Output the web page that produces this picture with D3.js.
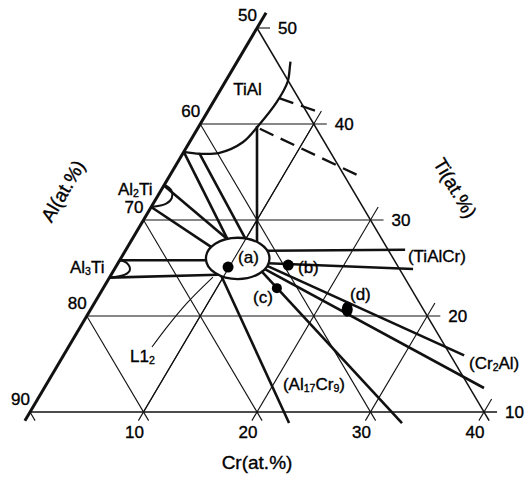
<!DOCTYPE html>
<html>
<head>
<meta charset="utf-8">
<script src="https://cdn.jsdelivr.net/npm/d3@7"></script>
<style>
  body { margin: 0; background: #fff; }
  svg text { font-family: "Liberation Sans", Arial, Helvetica, sans-serif; fill: #000; stroke: #000; stroke-width: 0.35px; }
</style>
</head>
<body>
<svg width="525" height="479"></svg>
<script>
// every composition is [Cr, Ti] in at.%, Al is the balance
const crTicks = [10, 20, 30, 40];
const tiTicks = [10, 20, 30, 40, 50];
const alTicks = [50, 60, 70, 80, 90];

// single phase boundaries
const tialBoundary = [[0, 37.1], [1.5, 36.9], [3.2, 37.0], [4.7, 38.1], [5.2, 39.8], [5.6, 42.3], [5.5, 44.4], [4.9, 46.0], [4.7, 46.5]];
const al2tiBoundary = [[0, 33.7], [0.9, 33.1], [1.35, 32.3], [1.15, 31.7], [0, 31.35]];
const al3tiBoundary = [[0, 25.8], [0.8, 25.5], [1.4, 24.8], [1.2, 24.3], [0, 24.0]];
const l12Centre = [10.3, 26.0];
const l12HalfSize = [2.8, 2.15]; // half extent, Cr and Ti

// tie lines / phase field borders
const tieLines = [
  [[0, 25.8], [7.6, 25.8]],
  [[0, 24.0], [9.4, 24.3]],
  [[0, 31.35], [7.35, 27.2]],
  [[0, 33.6], [8.4, 28.0]],
  [[0, 37.1], [8.4, 28.0]],
  [[1.5, 36.9], [10.0, 28.0]],
  [[5.1, 39.8], [11.15, 27.7]],
  [[12.5, 26.8], [24.6, 26.9]],
  [[13.2, 25.5], [26.3, 24.9]],
  [[13.1, 25.3], [35.3, 15.9]],
  [[13.2, 24.9], [38.75, 12.5]],
  [[13.15, 24.6], [33.35, 8.85]],
  [[9.75, 24.2], [23.4, 8.85]]
];
const dashedLines = [
  [[5.6, 42.7], [10.1, 41.15]],
  [[5.5, 39.5], [16.7, 34.6]]
];
const l12Leader = [[7.36, 16.77], [7.64, 18.85], [8.15, 21.35], [9.09, 24.06]];

// alloys
const alloyNames = ['(a)', '(b)', '(c)', '(d)'];
const alloyComp = [[9.9, 25.1], [15.1, 25.3], [15.3, 22.9], [22.6, 20.7]];
const alloyLabelAt = [[10.57, 25.52], [16.37, 24.48], [13.97, 21.35], [22.36, 21.67]];

// phase names, "_n" = subscript
const phaseNames = ['TiAl', 'Al_2Ti', 'Al_3Ti', 'L1_2', '(TiAlCr)', '(Cr_2Al)', '(Al_17Cr_9)'];
const phaseLabelAt = [[1.4, 43.0], [-3.55, 32.6], [-3.72, 24.48], [6.21, 15.21], [25.49, 25.62], [36.44, 14.48], [21.14, 12.29]];

const svg = d3.select('svg');

const crScale = d3.scaleLinear().domain([0, 40]).range([30, 484]);
const tiScale = d3.scaleLinear().domain([10, 50]).range([412, 28]);
// ternary -> screen (base line is Ti = 10)
const proj = d => [crScale(d[0] + (d[1] - 10) / 2), tiScale(d[1])];

const straight = d3.line().x(d => proj(d)[0]).y(d => proj(d)[1]);
const smooth = d3.line().x(d => proj(d)[0]).y(d => proj(d)[1]).curve(d3.curveCatmullRom.alpha(0.5));

// grid
const grid = [];
[0, ...crTicks].forEach(c => grid.push({ pts: [[c, 9.1], [c, 50 - c + (c === 0 ? 1.6 : 1.35)]], w: c === 0 ? 3 : 1.1 }));
alTicks.forEach(a => {
  const s = 100 - a;
  grid.push({ pts: [[0, s], [s - 9.1, 9.1]], w: a === 50 ? 1.5 : 1.1 });
});
tiTicks.forEach(t => grid.push({ pts: [[0, t], [50 - t + 1.15, t]], w: t === 10 ? 1.5 : 1.1 }));

svg.append('g').selectAll('path').data(grid).join('path')
  .attr('d', d => straight(d.pts))
  .attr('fill', 'none').attr('stroke', '#111')
  .attr('stroke-width', d => d.w);

// phase boundaries
const phase = svg.append('g').attr('fill', 'none').attr('stroke', '#111');
phase.selectAll('.tie').data(tieLines).join('path').attr('class', 'tie')
  .attr('d', straight).attr('stroke-width', 2.6);
phase.selectAll('.dash').data(dashedLines).join('path').attr('class', 'dash')
  .attr('d', straight).attr('stroke-width', 2.3).attr('stroke-dasharray', '15,8');
phase.append('path').attr('d', smooth(tialBoundary)).attr('stroke-width', 2.3);
phase.append('path').attr('d', smooth(al2tiBoundary)).attr('stroke-width', 2);
phase.append('path').attr('d', smooth(al3tiBoundary)).attr('stroke-width', 2);

const c0 = proj(l12Centre);
phase.append('ellipse')
  .attr('cx', c0[0]).attr('cy', c0[1])
  .attr('rx', crScale(l12HalfSize[0]) - crScale(0))
  .attr('ry', tiScale(10) - tiScale(10 + l12HalfSize[1]))
  .attr('fill', '#fff').attr('stroke-width', 2.3);

phase.append('path').attr('d', smooth(l12Leader)).attr('stroke-width', 1.1);

// Cr = 10 grid line runs through the L12 field, redraw on top
svg.append('path').attr('d', straight([[10, 10], [10, 40]]))
  .attr('stroke', '#111').attr('stroke-width', 1.1).attr('fill', 'none');

// alloy points
svg.append('g').selectAll('ellipse').data(alloyComp).join('ellipse')
  .attr('cx', d => proj(d)[0]).attr('cy', d => proj(d)[1])
  .attr('rx', (d, i) => i === 2 ? 5 : 5.5)
  .attr('ry', (d, i) => i === 3 ? 7.5 : (i === 2 ? 5 : 5.5))
  .attr('fill', '#000');

function label(str, x, y, size, anchor) {
  const t = svg.append('text').attr('x', x).attr('y', y)
    .attr('font-size', size).attr('text-anchor', anchor || 'start');
  let low = false;
  str.split(/(_\d+)/).filter(s => s).forEach(part => {
    if (part[0] === '_') {
      t.append('tspan').attr('font-size', size * 0.62).attr('dy', 2).text(part.slice(1));
      low = true;
    } else {
      t.append('tspan').attr('dy', low ? -2 : 0).text(part);
      low = false;
    }
  });
  return t;
}

alloyNames.forEach((n, i) => { const p = proj(alloyLabelAt[i]); label(n, p[0], p[1], 17); });
phaseNames.forEach((n, i) => { const p = proj(phaseLabelAt[i]); label(n, p[0], p[1], 17); });

// tick labels
alTicks.forEach(a => { const p = proj([0, 100 - a]); label(String(a), p[0], p[1] - 7, 17, 'end'); });
tiTicks.forEach(t => { const p = proj([50 - t, t]); label(String(t), p[0] + 21, p[1] + 6, 17); });
crTicks.forEach(c => { const p = proj([c, 10]); label(String(c), p[0] - 9, p[1] + 26, 17, 'middle'); });

// axis titles
const ang = Math.atan2(tiScale(10) - tiScale(50), crScale(20) - crScale(0)) * 180 / Math.PI;
svg.append('text').attr('transform', `translate(63,191) rotate(${-ang})`)
  .attr('text-anchor', 'middle').attr('dominant-baseline', 'central')
  .attr('font-size', 19).text('Al(at.%)');
svg.append('text').attr('transform', `translate(455,188) rotate(${ang})`)
  .attr('text-anchor', 'middle').attr('dominant-baseline', 'central')
  .attr('font-size', 19).text('Ti(at.%)');
svg.append('text').attr('x', 257).attr('y', 469)
  .attr('text-anchor', 'middle').attr('font-size', 19).text('Cr(at.%)');
</script>
</body>
</html>
